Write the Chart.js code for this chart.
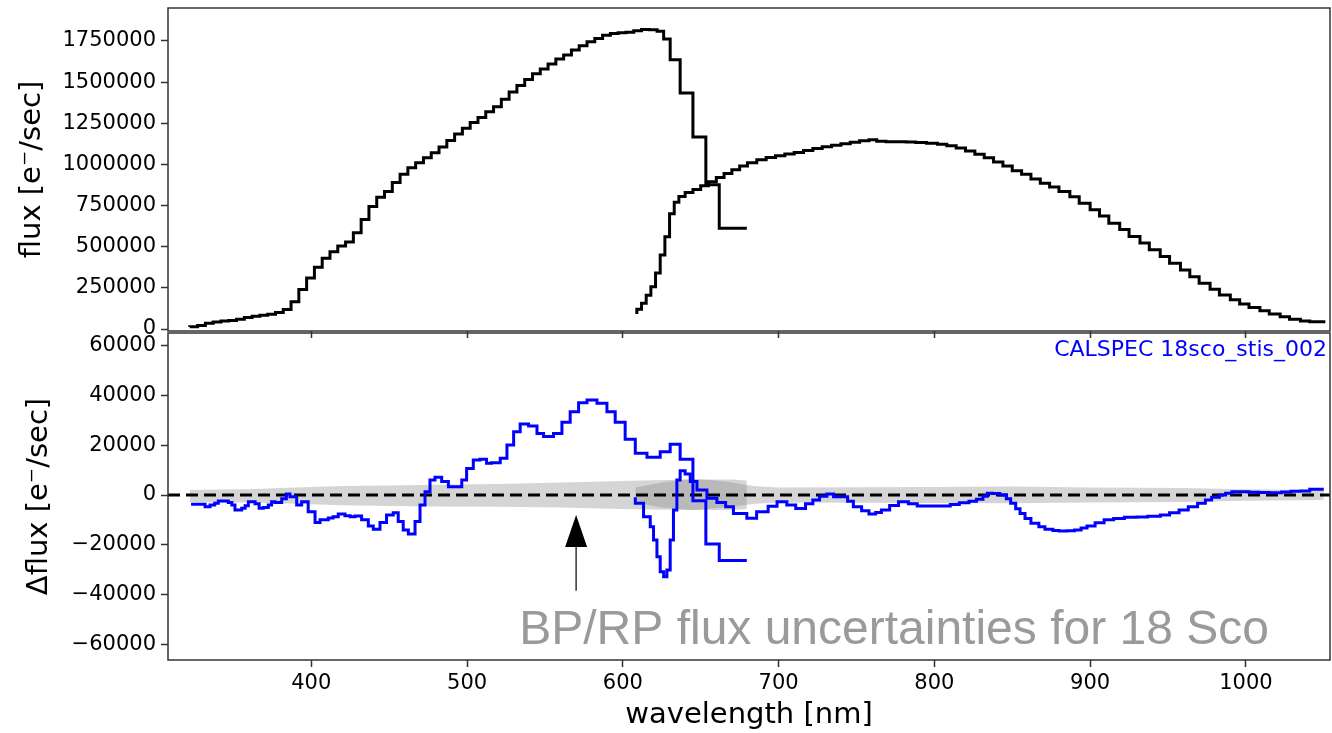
<!DOCTYPE html>
<html lang="en">
<head>
    <meta charset="UTF-8">
    <title>BP/RP flux vs CALSPEC 18 Sco</title>
    <script src="https://cdnjs.cloudflare.com/ajax/libs/Chart.js/4.4.1/chart.umd.min.js"></script>
    <style>
        body {
            margin: 0;
            background: #fff;
        }
        .wrap {
            position: relative;
            width: 1332px;
            height: 733px;
        }
        .wrap canvas {
            position: absolute;
            left: 0;
            top: 0;
        }
    </style>
</head>
<body>
    <div class="wrap">
        <canvas id="bottomChart" width="1332" height="733"></canvas>
        <canvas id="topChart" width="1332" height="345"></canvas>
    </div>

    <script>
        // axis ranges and tick labels
        const xMin = 308, xMax = 1054;
        const xTicks = [400, 500, 600, 700, 800, 900, 1000];
        const topTicks = [0, 250000, 500000, 750000, 1000000, 1250000, 1500000, 1750000];
        const bottomTicks = [-60000, -40000, -20000, 0, 20000, 40000, 60000];

        // top panel: BP and RP flux (step curves), wavelength [nm] / flux [e-/sec]
        const bpWave = [322, 327, 332, 337, 342, 347, 352, 357, 362, 367, 372, 377, 382, 387, 392, 397,
            402, 407, 412, 417, 422, 427, 432, 437, 442, 447, 452, 457, 462, 467, 472, 477, 482, 487,
            492, 497, 502, 507, 512, 517, 522, 527, 532, 537, 542, 547, 552, 557, 562, 567, 572, 577,
            582, 587, 592, 597, 602, 607, 612, 617, 622, 626.2, 630.4, 636.8, 645, 653.3, 661.9, 670.4, 679.6];
        const bpFlux = [12000, 14000, 22000, 35000, 42000, 48000, 52000, 60000, 70000, 78000, 84000, 89000,
            100000, 118000, 165000, 240000, 310000, 375000, 430000, 470000, 505000, 528000, 585000, 665000,
            745000, 800000, 835000, 890000, 940000, 980000, 1010000, 1040000, 1070000, 1105000, 1145000,
            1185000, 1220000, 1255000, 1285000, 1320000, 1350000, 1395000, 1440000, 1480000, 1515000,
            1550000, 1580000, 1610000, 1640000, 1665000, 1695000, 1720000, 1745000, 1765000, 1785000,
            1795000, 1800000, 1802000, 1812000, 1820000, 1818000, 1809000, 1762000, 1636000, 1434000,
            1166000, 876000, 612000, 612000];

        const rpWave = [609, 612, 615, 618, 621, 624, 627, 630, 633, 636, 640, 645, 650, 655, 660, 665,
            670, 675, 680, 686, 692, 698, 704, 710, 716, 722, 728, 734, 740, 746, 752, 758, 763, 769,
            776, 782, 788, 795, 802, 808, 814, 820, 826, 832, 838, 844, 850, 856, 862, 868, 874, 880,
            887, 893, 900, 906, 912, 919, 925, 932, 938, 945, 951, 958, 964, 970, 977, 983, 990, 996,
            1002, 1009, 1015, 1022, 1028, 1035, 1041, 1047, 1051];
        const rpFlux = [91000, 120000, 156000, 205000, 257000, 340000, 450000, 560000, 700000, 770000,
            805000, 829000, 848000, 870000, 895000, 920000, 945000, 967000, 990000, 1010000, 1028000,
            1042000, 1053000, 1063000, 1073000, 1085000, 1097000, 1107000, 1117000, 1126000, 1134000,
            1143000, 1150000, 1140000, 1138000, 1137000, 1136000, 1133000, 1128000, 1122000, 1113000,
            1100000, 1082000, 1062000, 1040000, 1015000, 990000, 962000, 940000, 912000, 886000, 862000,
            835000, 803000, 764000, 725000, 686000, 642000, 604000, 562000, 523000, 481000, 441000,
            399000, 359000, 318000, 278000, 241000, 207000, 178000, 152000, 130000, 111000, 92000,
            75000, 60000, 49000, 44000, 44000];

        // bottom panel: flux differences vs CALSPEC
        const bpDiffWave = [322.8, 331.8, 335, 338, 340.3, 346.7, 349, 351, 355.3, 357.5, 359.6, 363.9,
            366.5, 369.2, 372.4, 374.5, 376.7, 381, 384, 386.3, 390.6, 393.8, 398, 402.4, 405.6, 410.9,
            414, 417.3, 421.6, 425, 428, 432.3, 436.6, 439.8, 444.1, 448.3, 452.6, 455.8, 459, 462.3,
            466.6, 469.8, 473, 476.2, 479.4, 483.7, 488, 491.2, 496.6, 499.7, 504, 508.3, 512.5, 515.7,
            521.3, 525.6, 529.9, 534.1, 539.5, 544.9, 549.1, 555.5, 560.9, 566.2, 571.6, 577, 583.4,
            589.8, 595.1, 601.5, 608, 615.5, 624, 630.4, 636.8, 645, 653.3, 661.9, 670.4, 679.6];
        const bpDiff = [-3700, -3700, -4700, -4000, -3300, -2400, -3000, -4000, -6000, -5300, -4300, -2700,
            -3500, -5300, -5000, -4000, -2700, -3000, -1500, 400, -700, -4000, -2700, -6700, -11100, -10000,
            -9300, -8700, -7600, -8300, -8700, -8400, -10000, -12500, -13800, -11100, -8000, -7100, -10700,
            -14100, -15700, -10700, -4000, 1300, 6000, 7100, 5400, 3300, 3300, 6000, 10700, 14100, 14400,
            12800, 13000, 14800, 20100, 25500, 28600, 27800, 24800, 23500, 24800, 29300, 33500, 37100,
            38200, 36900, 33500, 29300, 22400, 16800, 15200, 17400, 20400, 14400, -2300, -19700, -26400, -26400];

        const rpDiffWave = [608, 613.3, 617.6, 619.7, 621.9, 624, 626.2, 628.3, 630.4, 632.5, 634.7, 636.8,
            640, 643.3, 647.6, 654, 660.4, 666, 671, 679.6, 685.9, 693.3, 699, 705.3, 711, 717.3, 722,
            726.3, 731, 735.3, 744.3, 748, 753.3, 758, 762.3, 766, 771.3, 777, 783.3, 789, 795.3, 803,
            810.2, 816, 822.2, 827, 831.2, 834, 837.2, 842, 846.2, 849, 852.2, 855, 858.2, 862, 867.1,
            871, 876.1, 880, 885.2, 890, 894.2, 898, 903.2, 909, 915.1, 922, 930.1, 937, 945.1, 951,
            957.1, 963, 969, 974, 978, 983, 987, 991, 996, 1002, 1008, 1015, 1023, 1029, 1035, 1041,
            1045, 1050];
        const rpDiff = [-900, -3300, -8700, -12800, -18100, -24800, -30900, -32900, -30200, -18100, -6000,
            6000, 9800, 8500, 5400, 2000, -1300, -3000, -4700, -7400, -9400, -6700, -4500, -2700, -4000,
            -5400, -3500, -2000, -500, 400, -700, -2500, -4700, -6300, -7600, -7000, -6000, -4200, -2700,
            -3500, -4400, -4400, -4400, -3800, -3100, -2500, -1700, -500, 700, 600, 0, -1500, -3300,
            -5500, -7400, -9500, -11400, -12800, -13800, -14300, -14500, -14400, -14100, -13300, -12500,
            -11200, -10000, -9500, -9000, -8800, -8500, -8000, -7100, -6000, -4700, -3300, -2000, -900,
            0, 700, 1300, 1300, 1100, 1000, 900, 1200, 1500, 1600, 2300, 2300];

        // uncertainty bands around zero
        const bpBandWave = [322, 340, 360, 380, 400, 420, 450, 480, 520, 560, 600, 640, 670, 679.6];
        const bpBandHi = [2000, 2200, 2300, 2800, 3200, 3600, 3800, 4100, 4400, 5000, 5600, 6200, 6200, 5800];
        const bpBandLo = [-2800, -3000, -3000, -3300, -3700, -4100, -4400, -4600, -4700, -5000, -5600, -6000, -6000, -5600];

        const rpBandWave = [608, 625, 645, 665, 685, 700, 800, 850, 900, 960, 1000, 1050];
        const rpBandHi = [3000, 5000, 6500, 5500, 3500, 3000, 3200, 3400, 3000, 2800, 2300, 2000];
        const rpBandLo = [-3000, -5000, -6000, -5000, -3500, -3000, -3200, -3300, -3000, -2800, -2300, -2000];

        // annotation
        const noteText = 'BP/RP flux uncertainties for 18 Sco';
        const noteAt = [533.5, -60000];
        const arrowTip = [570, -8000];
        const arrowTail = [570, -38500];
        const refLabel = 'CALSPEC 18sco_stis_002';

        const FONT = "'DejaVu Sans', sans-serif";
        const pts = (xs, ys) => xs.map((x, i) => ({ x: x, y: ys[i] }));
        const fixTicks = list => scale => { scale.ticks = list.map(v => ({ value: v })); };
        const minusFmt = v => v < 0 ? '\u2212' + Math.abs(v) : String(v);
        // y axis: fixed width, no extra room for half tick labels
        const fitY = s => { s.width = 168; s.paddingTop = 0; s.paddingBottom = 0; };

        // box around each panel
        const frame = {
            id: 'frame',
            afterDatasetsDraw(chart) {
                const a = chart.chartArea, c = chart.ctx;
                c.save();
                c.strokeStyle = '#333';
                c.lineWidth = 1.5;
                c.strokeRect(a.left, a.top, a.right - a.left, a.bottom - a.top);
                c.restore();
            }
        };

        const tickStyle = { drawOnChartArea: false, tickLength: 7, tickWidth: 1.5, tickColor: '#333' };

        // top panel
        new Chart(document.getElementById('topChart'), {
            type: 'line',
            data: {
                datasets: [
                    { data: pts(bpWave, bpFlux), borderColor: '#000', borderWidth: 3, pointRadius: 0, stepped: 'after' },
                    { data: pts(rpWave, rpFlux), borderColor: '#000', borderWidth: 3, pointRadius: 0, stepped: 'after' }
                ]
            },
            options: {
                responsive: false,
                animation: false,
                events: [],
                layout: { padding: { top: 8, right: 2, left: 0, bottom: 0 } },
                plugins: { legend: { display: false }, tooltip: { enabled: false } },
                scales: {
                    x: {
                        type: 'linear', min: xMin, max: xMax, bounds: 'data',
                        afterBuildTicks: fixTicks(xTicks),
                        ticks: { display: false },
                        grid: tickStyle,
                        border: { display: false },
                        afterFit: s => { s.height = 345 - 331; s.paddingLeft = 0; s.paddingRight = 0; }
                    },
                    y: {
                        min: -12000, max: 1950000, bounds: 'data',
                        afterBuildTicks: fixTicks(topTicks),
                        ticks: { autoSkip: false, padding: 5, color: '#000', font: { family: FONT, size: 21 }, callback: v => String(v) },
                        grid: tickStyle,
                        border: { display: false },
                        title: { display: true, text: 'flux [e\u207B/sec]', color: '#000', font: { family: FONT, size: 29 }, padding: { top: 15, bottom: 0 } },
                        afterFit: fitY
                    }
                }
            },
            plugins: [frame]
        });

        // arrow and labels on the bottom panel
        const notes = {
            id: 'notes',
            afterDraw(chart) {
                const c = chart.ctx, xs = chart.scales.x, ys = chart.scales.y, a = chart.chartArea;
                c.save();
                const ax = xs.getPixelForValue(arrowTip[0]);
                const tipY = ys.getPixelForValue(arrowTip[1]);
                const tailY = ys.getPixelForValue(arrowTail[1]);
                const headLen = 32, headW = 11;
                c.strokeStyle = '#000';
                c.lineWidth = 1.2;
                c.beginPath();
                c.moveTo(ax, tailY);
                c.lineTo(ax, tipY + headLen);
                c.stroke();
                c.fillStyle = '#000';
                c.beginPath();
                c.moveTo(ax, tipY);
                c.lineTo(ax - headW, tipY + headLen);
                c.lineTo(ax + headW, tipY + headLen);
                c.closePath();
                c.fill();
                // big grey note
                c.fillStyle = '#9a9a9a';
                c.font = "48px 'Liberation Sans', Arial, sans-serif";
                c.textAlign = 'left';
                c.textBaseline = 'alphabetic';
                c.fillText(noteText, xs.getPixelForValue(noteAt[0]), ys.getPixelForValue(noteAt[1]));
                // reference star label
                c.fillStyle = '#0000ff';
                c.font = "22px 'DejaVu Sans', sans-serif";
                c.textAlign = 'right';
                c.textBaseline = 'top';
                c.fillText(refLabel, a.right - 3, a.top + 6);
                c.restore();
            }
        };

        const band = (xs, ys, fillTo) => ({
            data: pts(xs, ys), borderWidth: 0, pointRadius: 0,
            backgroundColor: 'rgba(128,128,128,0.33)', fill: fillTo, order: 3
        });

        // bottom panel
        new Chart(document.getElementById('bottomChart'), {
            type: 'line',
            data: {
                datasets: [
                    band(bpBandWave, bpBandHi, '+1'),
                    band(bpBandWave, bpBandLo, false),
                    band(rpBandWave, rpBandHi, '+1'),
                    band(rpBandWave, rpBandLo, false),
                    { data: [{ x: xMin, y: 0 }, { x: xMax, y: 0 }], borderColor: '#000', borderWidth: 3, borderDash: [12, 6], pointRadius: 0, order: 1 },
                    { data: pts(bpDiffWave, bpDiff), borderColor: '#0000ff', borderWidth: 3, pointRadius: 0, stepped: 'after', order: 0 },
                    { data: pts(rpDiffWave, rpDiff), borderColor: '#0000ff', borderWidth: 3, pointRadius: 0, stepped: 'after', order: 0 }
                ]
            },
            options: {
                responsive: false,
                animation: false,
                events: [],
                layout: { padding: { top: 333, right: 2, left: 0, bottom: 0 } },
                plugins: { legend: { display: false }, tooltip: { enabled: false } },
                scales: {
                    x: {
                        type: 'linear', min: xMin, max: xMax, bounds: 'data',
                        afterBuildTicks: fixTicks(xTicks),
                        ticks: { autoSkip: false, maxRotation: 0, padding: 4, color: '#000', font: { family: FONT, size: 21 }, callback: v => String(v) },
                        grid: tickStyle,
                        border: { display: false },
                        title: { display: true, text: 'wavelength [nm]', color: '#000', font: { family: FONT, size: 29 }, padding: { top: 0, bottom: 0 } },
                        afterFit: s => { s.height = 733 - 660; s.paddingLeft = 0; s.paddingRight = 0; }
                    },
                    y: {
                        min: -66400, max: 65200, bounds: 'data',
                        afterBuildTicks: fixTicks(bottomTicks),
                        ticks: { autoSkip: false, padding: 5, color: '#000', font: { family: FONT, size: 21 }, callback: minusFmt },
                        grid: tickStyle,
                        border: { display: false },
                        title: { display: true, text: '\u0394flux [e\u207B/sec]', color: '#000', font: { family: FONT, size: 29 }, padding: { top: 22, bottom: 0 } },
                        afterFit: fitY
                    }
                }
            },
            plugins: [frame, notes]
        });
    </script>
</body>
</html>
